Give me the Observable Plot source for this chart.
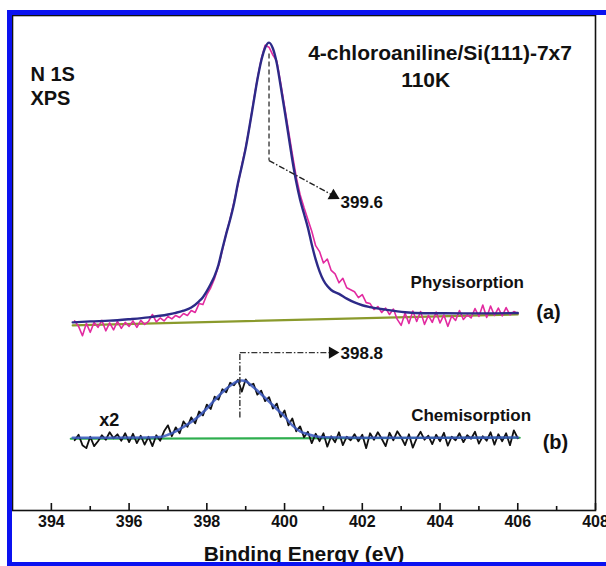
<!DOCTYPE html>
<html><head><meta charset="utf-8">
<script src="https://cdn.jsdelivr.net/npm/d3@7"></script>
<script src="https://cdn.jsdelivr.net/npm/@observablehq/plot@0.6"></script>
<style>
html,body{margin:0;padding:0;background:#fff;overflow:hidden;width:606px;height:566px}
#wrap{position:relative;width:606px;height:566px;overflow:hidden;background:#fff}
#chart svg{display:block}
.bar{position:absolute;background:#0b12f0;pointer-events:none}
#bl{left:7px;top:10px;width:5px;height:556px}
#bt{left:7px;top:10px;width:599px;height:5px}
#bb{left:7px;top:562px;width:599px;height:5px}
</style></head><body><div id="wrap"><div id="chart"></div><div class="bar" id="bl"></div><div class="bar" id="bt"></div><div class="bar" id="bb"></div></div>
<script>
// ---- data ----
const energyGrid = [394.6,394.7,394.8,394.9,395.0,395.1,395.2,395.3,395.4,395.5,
395.6,395.7,395.8,395.9,396.0,396.1,396.2,396.3,396.4,396.5,
396.6,396.7,396.8,396.9,397.0,397.1,397.2,397.3,397.4,397.5,
397.6,397.7,397.8,397.9,398.0,398.1,398.2,398.3,398.4,398.5,
398.6,398.7,398.8,398.9,399.0,399.1,399.2,399.3,399.4,399.5,
399.6,399.7,399.8,399.9,400.0,400.1,400.2,400.3,400.4,400.5,
400.6,400.7,400.8,400.9,401.0,401.1,401.2,401.3,401.4,401.5,
401.6,401.7,401.8,401.9,402.0,402.1,402.2,402.3,402.4,402.5,
402.6,402.7,402.8,402.9,403.0,403.1,403.2,403.3,403.4,403.5,
403.6,403.7,403.8,403.9,404.0,404.1,404.2,404.3,404.4,404.5,
404.6,404.7,404.8,404.9,405.0,405.1,405.2,405.3,405.4,405.5,
405.6,405.7,405.8,405.9,406.0];

// (a) physisorption, measured (magenta)
const physCounts = [38.3,37.2,35.3,37.8,36.0,38.0,37.0,38.4,36.3,37.9,
36.5,38.2,36.8,38.0,37.2,38.3,37.0,38.4,37.6,38.2,
39.6,38.1,38.9,38.3,39.2,38.7,39.4,39.0,39.8,39.4,
40.4,40.0,41.8,41.6,43.6,45.0,46.9,49.4,52.6,56.0,
58.9,62.4,65.8,69.8,73.4,77.6,82.6,87.2,91.2,94.0,
93.6,92.0,90.8,86.4,81.6,76.8,72.0,67.4,63.8,61.2,
58.8,56.4,53.5,52.3,50.0,50.8,48.5,47.8,46.0,46.9,
45.0,44.6,44.2,43.0,43.6,42.0,41.8,40.6,41.2,40.0,
40.9,39.6,40.7,38.6,37.4,39.9,37.8,40.3,38.2,40.2,
37.6,39.4,38.0,40.1,37.9,39.5,37.2,39.3,38.4,40.4,
38.6,39.5,38.9,40.8,39.2,41.5,39.0,41.3,39.4,40.9,
39.3,41.0,39.5,40.2,39.8];

// (b) chemisorption, measured x2 (black)
const chemCounts = [14.2,15.3,13.2,12.6,14.9,13.0,14.0,15.2,14.3,15.8,
14.6,15.4,14.1,15.6,13.8,15.5,13.6,15.1,13.3,14.9,
13.0,15.2,14.1,16.0,17.2,15.0,16.8,15.6,18.0,16.9,
18.8,17.6,20.0,19.2,21.4,20.5,23.0,22.4,24.5,23.9,
25.8,25.3,26.4,24.0,26.5,25.3,25.6,23.4,24.2,22.1,
22.9,20.6,21.6,18.9,20.2,17.2,18.6,16.0,17.0,14.8,
15.9,13.6,15.5,14.0,15.6,12.9,15.0,13.8,15.8,13.2,
14.9,14.2,15.4,14.0,15.3,12.6,15.6,14.3,15.8,14.5,
13.0,15.7,14.2,16.0,14.8,13.2,15.4,12.7,14.6,15.9,
14.3,15.1,13.4,15.3,14.0,15.7,13.1,14.9,14.2,15.6,
13.8,15.2,14.5,15.9,13.5,15.0,14.1,15.8,13.3,15.4,
14.0,15.6,13.2,16.2,14.6];

// (a) fitted peak (navy)
const fitAEnergy = [394.55,395.0,395.5,396.0,396.5,397.0,397.2,397.4,397.6,397.8,397.9,
398.0,398.1,398.2,398.3,398.4,398.5,398.6,398.7,398.8,398.9,399.0,399.1,399.2,399.3,399.4,399.5,399.6,
399.7,399.8,399.9,400.0,400.1,400.2,400.3,400.4,400.5,400.6,400.7,400.8,400.9,401.0,401.1,401.2,
401.4,401.6,401.8,402.0,402.2,402.6,403.1,403.6,404.1,405.1,406.0];
const fitAValue = [38.0,38.2,38.35,38.65,39.02,39.59,39.93,40.37,41.02,42.26,43.09,
44.32,45.76,47.39,49.64,52.89,55.94,58.79,62.04,66.1,69.55,73.21,77.67,82.34,87.01,90.86,93.5,94.53,
93.34,90.33,85.7,80.87,75.84,70.81,66.39,62.77,59.95,57.15,53.73,50.72,48.32,46.52,45.33,44.54,
43.77,42.8,42.03,41.46,41.09,40.57,40.05,39.85,39.84,39.83,39.9];

// (b) fitted peak (blue)
const fitBEnergy = [394.55,395.5,396.5,396.8,397.0,397.2,397.4,397.6,397.8,398.0,398.2,398.4,398.6,398.8,398.9,
399.0,399.2,399.4,399.6,399.8,400.0,400.2,400.4,400.6,400.8,401.0,402.0,404.0,406.0];
const fitBValue = [14.7,14.7,14.75,14.85,15.3,16.0,16.9,17.9,19.1,20.6,22.3,23.9,25.2,26.1,26.25,
26.1,24.9,23.5,22.0,20.5,19.0,17.2,16.0,15.4,15.0,14.8,14.7,14.7,14.75];

// backgrounds
const bgAEnergy = [394.55, 406.0];
const bgAValue = [37.4, 39.6];
const bgBEnergy = [394.5, 406.05];
const bgBValue = [14.5, 14.7];

// peak position markers
const peakA = {x: 399.6, yTop: 92.3, yBend: 70.7, tipX: 401.26, tipY: 63.6, label: "399.6", labelX: 401.44, labelY: 62.2};
const peakB = {x: 398.85, yBottom: 18.8, yTop: 31.9, tipX: 401.23, label: "398.8", labelX: 401.44, labelY: 31.7};

// tick labels
const majorTicks = [394, 396, 398, 400, 402, 404, 406, 408];
const minorTicks = [395, 397, 399, 401, 403, 405, 407];
const xLabel = "Binding Energy (eV)";

// text annotations
const leftNotes = [
  {text: "N 1S", x: 393.46, y: 88.1},
  {text: "XPS", x: 393.46, y: 83.2}
];
const titleNotes = [
  {text: "4-chloroaniline/Si(111)-7x7", x: 404.0, y: 92.3},
  {text: "110K", x: 403.63, y: 86.9}
];
const seriesNotes = [
  {text: "Physisorption", x: 404.7, y: 46.1, size: 17},
  {text: "(a)", x: 406.79, y: 40.0, size: 20},
  {text: "Chemisorption", x: 404.8, y: 19.2, size: 17},
  {text: "(b)", x: 406.97, y: 13.7, size: 20},
  {text: "x2", x: 395.49, y: 18.2, size: 18}
];

// ---- build ----
const phys = energyGrid.map((e, i) => ({e, v: physCounts[i]}));
const chem = energyGrid.map((e, i) => ({e, v: chemCounts[i]}));
const fitA = fitAEnergy.map((e, i) => ({e, v: fitAValue[i]}));
const fitB = fitBEnergy.map((e, i) => ({e, v: fitBValue[i]}));
const bgA = bgAEnergy.map((e, i) => ({e, v: bgAValue[i]}));
const bgB = bgBEnergy.map((e, i) => ({e, v: bgBValue[i]}));

const W = 606, H = 566, mT = 15, mB = 56, mL = 12, mR = 11;
const innerH = H - mT - mB;
const font = "'Liberation Sans', Arial, Helvetica, sans-serif";

const chart = Plot.plot({
  width: W, height: H,
  marginLeft: mL, marginRight: mR, marginTop: mT, marginBottom: mB,
  x: {domain: [393, 408]},
  y: {domain: [0, 100], axis: null},
  style: {fontFamily: font, background: "transparent", color: "#111"},
  marks: [
    Plot.frame({stroke: "#111", strokeWidth: 1.6}),
    Plot.ruleX(majorTicks, {x: d => d, insetTop: innerH - 7, stroke: "#111", strokeWidth: 1.6}),
    Plot.ruleX(minorTicks, {x: d => d, insetTop: innerH - 4, stroke: "#111", strokeWidth: 1.6}),
    Plot.axisX({ticks: majorTicks, tickSize: 0, tickPadding: 5, fontSize: 16, fontWeight: "bold", label: null, tickFormat: d => String(d)}),
    Plot.text([xLabel], {frameAnchor: "bottom", dy: 50, fontSize: 21, fontWeight: "bold", fill: "#111"}),
    // backgrounds
    Plot.line(bgA, {x: "e", y: "v", stroke: "#8a9a2c", strokeWidth: 2.2}),
    Plot.line(bgB, {x: "e", y: "v", stroke: "#2eae4e", strokeWidth: 2.2}),
    // measured
    Plot.line(phys, {x: "e", y: "v", stroke: "#e22aa0", strokeWidth: 1.6, curve: "linear"}),
    Plot.line(chem, {x: "e", y: "v", stroke: "#111", strokeWidth: 1.8, curve: "linear"}),
    // fits
    Plot.line(fitA, {x: "e", y: "v", stroke: "#2d2a88", strokeWidth: 2.4, curve: "monotone-x"}),
    Plot.line(fitB, {x: "e", y: "v", stroke: "#3a58c0", strokeWidth: 2.6, strokeOpacity: 0.85, curve: "monotone-x"}),
    // peak markers (a)
    Plot.link([peakA], {x1: "x", y1: "yTop", x2: "x", y2: "yBend", stroke: "#555", strokeWidth: 1.6, strokeDasharray: "5,3"}),
    Plot.link([peakA], {x1: "x", y1: "yBend", x2: "tipX", y2: "tipY", stroke: "#222", strokeWidth: 1.4, strokeDasharray: "6,2,1.5,2"}),
    Plot.dot([peakA], {x: "tipX", y: "tipY", symbol: "triangle", r: 4.5, fill: "#111", stroke: null, rotate: 119}),
    Plot.text([peakA], {x: "labelX", y: "labelY", text: "label", textAnchor: "start", fontSize: 17, fontWeight: "bold", fill: "#111"}),
    // peak markers (b)
    Plot.link([peakB], {x1: "x", y1: "yBottom", x2: "x", y2: "yTop", stroke: "#333", strokeWidth: 1.4, strokeDasharray: "6,2,1.5,2"}),
    Plot.link([peakB], {x1: "x", y1: "yTop", x2: "tipX", y2: "yTop", stroke: "#333", strokeWidth: 1.4, strokeDasharray: "6,2,1.5,2"}),
    Plot.dot([peakB], {x: "tipX", y: "yTop", symbol: "triangle", r: 4.5, fill: "#111", stroke: null, rotate: 90}),
    Plot.text([peakB], {x: "labelX", y: "labelY", text: "label", textAnchor: "start", fontSize: 17, fontWeight: "bold", fill: "#111"}),
    // text notes
    Plot.text(leftNotes, {x: "x", y: "y", text: "text", fontSize: 20, textAnchor: "start", fontWeight: "bold", fill: "#111"}),
    Plot.text(titleNotes, {x: "x", y: "y", text: "text", fontSize: 21, textAnchor: "middle", fontWeight: "bold", fill: "#111"}),
    Plot.text(seriesNotes, {x: "x", y: "y", text: "text", fontSize: "size", textAnchor: "middle", fontWeight: "bold", fill: "#111"})
  ]
});
document.getElementById("chart").appendChild(chart);
</script></body></html>
